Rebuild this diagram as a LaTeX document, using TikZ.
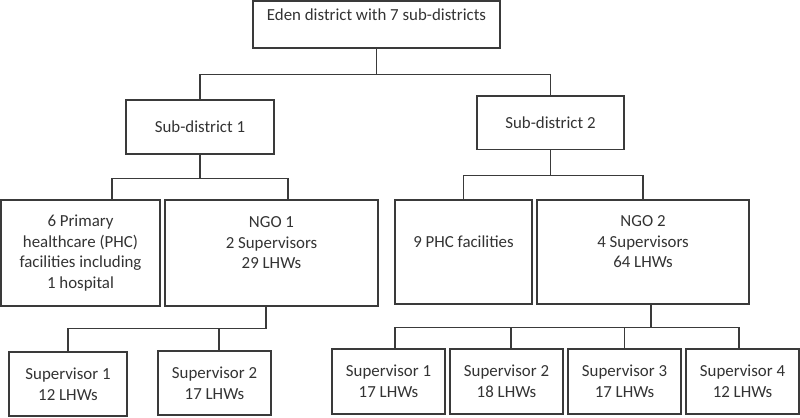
\documentclass[tikz,border=0pt]{standalone}
\usepackage{fontspec}
\setmainfont{Carlito}
\usepackage{tikz}
\usetikzlibrary{calc}
\definecolor{boxline}{HTML}{3A3A3A}
\definecolor{boxtext}{HTML}{333333}
\tikzset{
  unit/.style={draw=boxline, line width=0.9pt, align=center, text=boxtext,
    inner sep=0pt, font=\fontsize{9.6}{11.7}\selectfont},
  link/.style={draw=boxline, line width=0.6pt}
}

\begin{document}
\begin{tikzpicture}
\useasboundingbox (0,0) rectangle (16,-8.34);

\node[unit, minimum width=4.94cm, minimum height=0.94cm] (eden) at (7.53,-0.49)
  {Eden district with 7 sub-districts\\ \mbox{}};

\node[unit, minimum width=2.96cm, minimum height=1.08cm] (sd1) at (4.00,-2.54) {Sub-district 1};
\node[unit, minimum width=2.94cm, minimum height=1.07cm] (sd2) at (11.01,-2.455) {Sub-district 2};

\node[unit, minimum width=3.18cm, minimum height=2.12cm] (phc1) at (1.61,-5.06)
  {6 Primary\\healthcare (PHC)\\facilities including\\1 hospital};
\node[unit, minimum width=4.26cm, minimum height=2.12cm] (ngo1) at (5.43,-5.06)
  {NGO 1\\2 Supervisors\\29 LHWs\\ \mbox{}};
\node[unit, minimum width=2.74cm, minimum height=2.08cm] (phc2) at (9.27,-5.04)
  {9 PHC facilities\\ \mbox{}};
\node[unit, minimum width=4.24cm, minimum height=2.08cm] (ngo2) at (12.86,-5.04)
  {NGO 2\\4 Supervisors\\64 LHWs\\ \mbox{}};

\node[unit, minimum width=2.36cm, minimum height=1.28cm] (sup11) at (1.36,-7.68) {Supervisor 1\\12 LHWs};
\node[unit, minimum width=2.26cm, minimum height=1.28cm] (sup12) at (4.29,-7.66) {Supervisor 2\\17 LHWs};

\node[unit, minimum width=2.26cm, minimum height=1.30cm] (sup21) at (7.77,-7.63) {Supervisor 1\\17 LHWs};
\node[unit, minimum width=2.26cm, minimum height=1.30cm] (sup22) at (10.13,-7.63) {Supervisor 2\\18 LHWs};
\node[unit, minimum width=2.26cm, minimum height=1.30cm] (sup23) at (12.49,-7.63) {Supervisor 3\\17 LHWs};
\node[unit, minimum width=2.26cm, minimum height=1.30cm] (sup24) at (14.85,-7.63) {Supervisor 4\\12 LHWs};

% district -> sub-districts
\draw[link] (eden.south) -- ++(0,-0.52) -| (sd1.north);
\draw[link] (eden.south) -- ++(0,-0.52) -| (sd2.north);

% sub-districts -> facilities and NGOs
\draw[link] (sd1.south) -- ++(0,-0.48) -| ($(phc1.north)+(0.63,0)$);
\draw[link] (sd1.south) -- ++(0,-0.48) -| ($(ngo1.north)+(0.33,0)$);
\draw[link] (sd2.south) -- ++(0,-0.51) -| (phc2.north);
\draw[link] (sd2.south) -- ++(0,-0.51) -| (ngo2.north);

% NGOs -> supervisors
\draw[link] ($(ngo1.south)+(-0.11,0)$) -- ++(0,-0.44) -| (sup11.north);
\draw[link] ($(ngo1.south)+(-0.11,0)$) -- ++(0,-0.44) -| ($(sup12.north)+(0.09,0)$);
\draw[link] ($(ngo2.south)+(0.16,0)$) -- ++(0,-0.46) -| ($(sup21.north)+(0.13,0)$);
\draw[link] ($(ngo2.south)+(0.16,0)$) -- ++(0,-0.46) -| ($(sup22.north)+(0.09,0)$);
\draw[link] ($(ngo2.south)+(0.16,0)$) -- ++(0,-0.46) -| (sup23.north);
\draw[link] ($(ngo2.south)+(0.16,0)$) -- ++(0,-0.46) -| ($(sup24.north)+(-0.07,0)$);
\end{tikzpicture}
\end{document}
